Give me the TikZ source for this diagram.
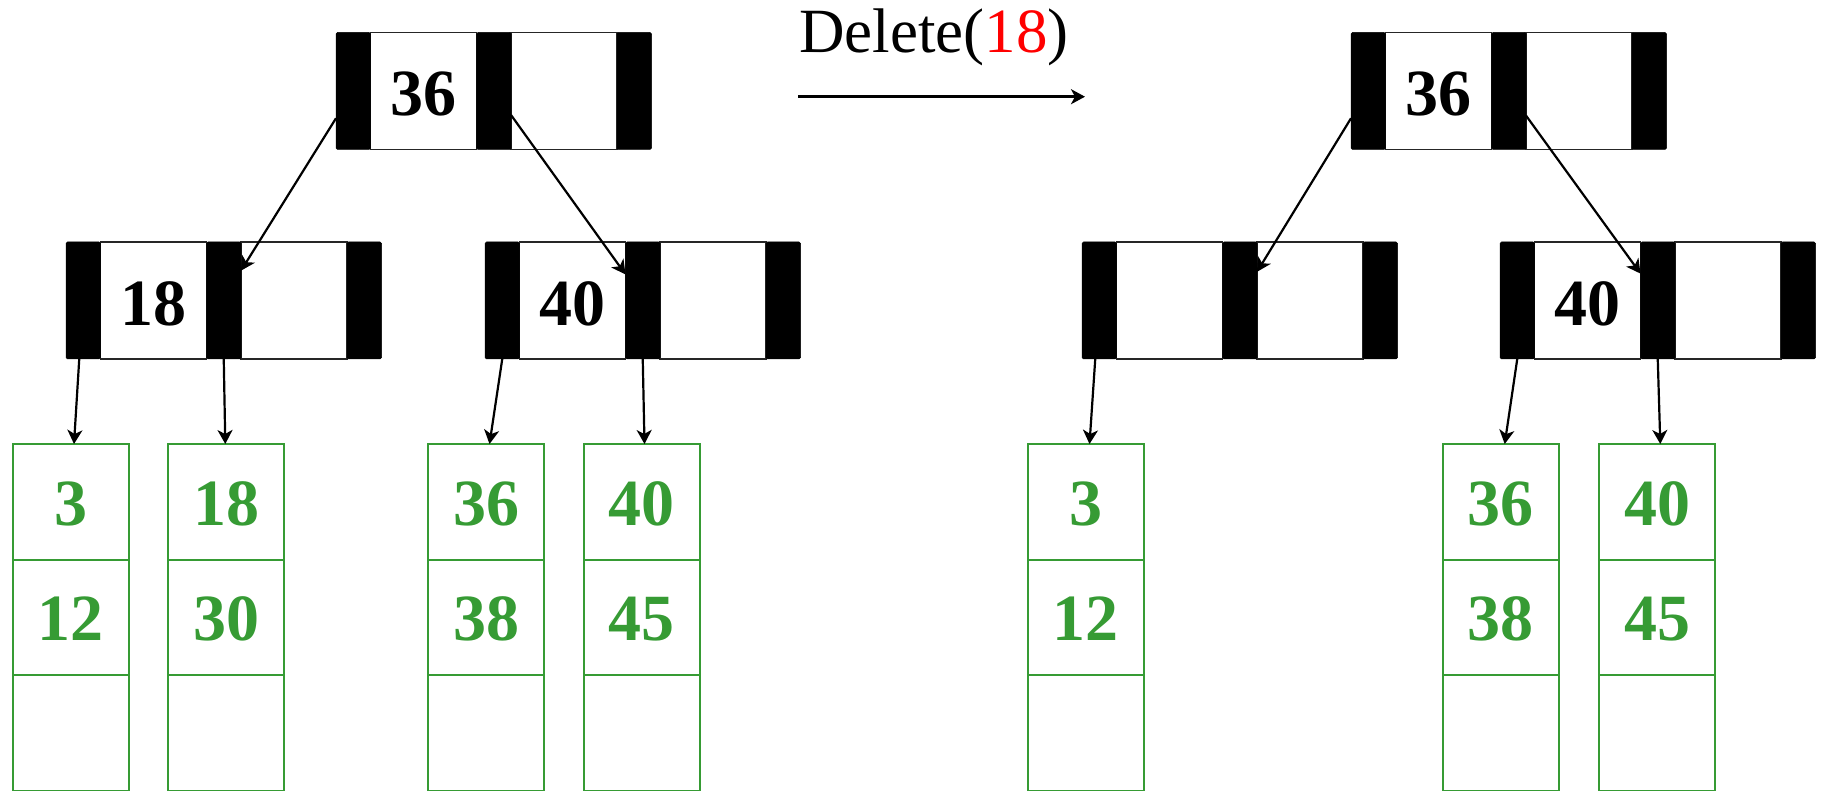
\documentclass[tikz,border=0pt]{standalone}
\usepackage{fontspec}
\setmainfont{Liberation Serif}
\usetikzlibrary{calc,arrows.meta}
\definecolor{leafgreen}{RGB}{54,155,52}
\definecolor{keyred}{RGB}{255,0,0}

\tikzset{
  barcell/.style={fill=black, draw=black, line width=0.5pt, rounded corners=1.5pt,
    minimum width=34.5pt, minimum height=117pt, inner sep=0pt, outer sep=0pt},
  keycell/.style={draw=black!85, line width=1.6pt, minimum width=106pt,
    minimum height=117pt, inner sep=0pt, outer sep=0pt,
    text height=49.5pt, text depth=0pt,
    font=\bfseries\fontsize{66}{70}\selectfont},
  leafcell/.style={draw=leafgreen, line width=2pt, minimum width=116pt,
    minimum height=115.5pt, inner sep=0pt, outer sep=0pt, text=leafgreen,
    text height=46.5pt, text depth=0pt,
    font=\bfseries\fontsize{66}{70}\selectfont},
  link/.style={-{Stealth[length=14pt,width=15pt,inset=4pt]}, line width=2.2pt},
  oplabel/.style={anchor=base west, inner sep=0pt, font=\fontsize{63}{70}\selectfont},
}

% internal B+ tree node: name, left x, top y, key
\newcommand\keynode[4]{%
  \node[keycell] (#1-c1) at (#2+34.5+53, #3+58.5) {#4};
  \node[keycell] (#1-c2) at (#2+2*34.5+106+53, #3+58.5) {};
  \node[barcell] (#1-b0) at (#2+17.25, #3+58.5) {};
  \node[barcell] (#1-b1) at (#2+34.5+106+17.25, #3+58.5) {};
  \node[barcell] (#1-b2) at (#2+2*34.5+2*106+17.25, #3+58.5) {};
}
% leaf node: name, left x, first key, second key
\newcommand\leafnode[4]{%
  \node[leafcell] (#1-1) at (#2+58, 444+57.75) {#3};
  \node[leafcell] (#1-2) at (#2+58, 444+115.5+57.75) {#4};
  \node[leafcell] (#1-3) at (#2+58, 444+231+57.75) {};
}

\begin{document}
\begin{tikzpicture}[x=1pt, y=-1pt]
\useasboundingbox (0,0) rectangle (1824,791);

% ---- tree before the deletion ----
\keynode{LR}{336}{32.5}{36}
\keynode{LA}{66}{242}{18}
\keynode{LB}{485}{242}{40}
\leafnode{l1}{12.5}{3}{12}
\leafnode{l2}{168.3}{18}{30}
\leafnode{l3}{428}{36}{38}
\leafnode{l4}{583.5}{40}{45}

\draw[link] ($(LR-b0.north west)!0.733!(LR-b0.south west)$) -- ($(LA-b1.north east)!0.245!(LA-b1.south east)$);
\draw[link] ($(LR-b1.north east)!0.705!(LR-b1.south east)$) -- ($(LB-b1.north west)!0.277!(LB-b1.south west)$);
\draw[link] ([xshift=-4pt]LA-b0.south) -- ([xshift=3.5pt]l1-1.north);
\draw[link] (LA-b1.south) -- ([xshift=-1pt]l2-1.north);
\draw[link] (LB-b0.south) -- ([xshift=3.5pt]l3-1.north);
\draw[link] (LB-b1.south) -- ([xshift=3pt]l4-1.north);

% ---- operation ----
\node[oplabel] (op) at (799,53) {Delete(\textcolor{keyred}{18})};
\coordinate (opA) at (798,96.7);
\coordinate (opB) at (1085,96.7);
\draw[link, line width=2.5pt] (opA) -- (opB);

% ---- tree after the deletion ----
\keynode{RR}{1351}{32.5}{36}
\keynode{RA}{1082}{242}{}
\keynode{RB}{1500}{242}{40}
\leafnode{r1}{1027.5}{3}{12}
\leafnode{r2}{1442.7}{36}{38}
\leafnode{r3}{1599.3}{40}{45}

\draw[link] ($(RR-b0.north west)!0.733!(RR-b0.south west)$) -- ($(RA-b1.north east)!0.255!(RA-b1.south east)$);
\draw[link] ($(RR-b1.north east)!0.71!(RR-b1.south east)$) -- ($(RB-b1.north west)!0.27!(RB-b1.south west)$);
\draw[link] ([xshift=-4pt]RA-b0.south) -- ([xshift=4pt]r1-1.north);
\draw[link] (RB-b0.south) -- ([xshift=4pt]r2-1.north);
\draw[link] (RB-b1.south) -- ([xshift=3pt]r3-1.north);
\end{tikzpicture}
\end{document}
